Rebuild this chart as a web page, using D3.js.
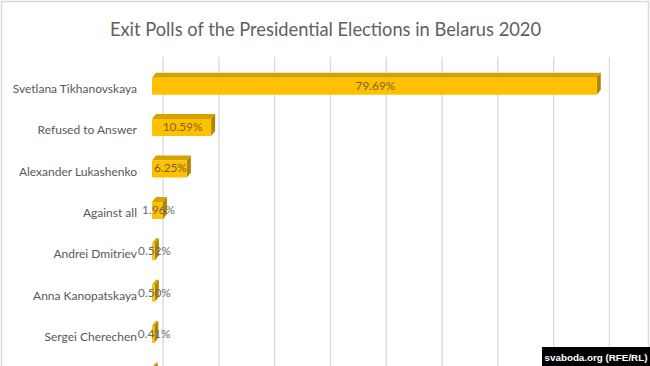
<!DOCTYPE html>
<html>
<head>
<meta charset="utf-8">
<script src="https://cdn.jsdelivr.net/npm/d3@7"></script>
<style>
  html, body { margin: 0; padding: 0; background: #ffffff; }
  svg { display: block; }
</style>
</head>
<body>
<svg id="chart" width="650" height="366"></svg>
<script>
const title = "Exit Polls of the Presidential Elections in Belarus 2020";
const categories = [
  "Svetlana Tikhanovskaya",
  "Refused to Answer",
  "Alexander Lukashenko",
  "Against all",
  "Andrei Dmitriev",
  "Anna Kanopatskaya",
  "Sergei Cherechen",
  "Yury Gancharenko"
];
const values = [79.69, 10.59, 6.25, 1.96, 0.52, 0.50, 0.41, 0.30];
const valueLabels = ["79.69%", "10.59%", "6.25%", "1.96%", "0.52%", "0.50%", "0.41%", ""];
const gridTicks = [0, 10, 20, 30, 40, 50, 60, 70, 80];
const credit = "svaboda.org (RFE/RL)";

const W = 650, H = 366;
const svg = d3.select("#chart");
const font = "Lato, 'Open Sans', sans-serif";

// outer frame
svg.append("rect").attr("x", 0).attr("y", 0).attr("width", W).attr("height", H).attr("fill", "#ffffff");
svg.append("rect").attr("x", 1.5).attr("y", 1.5).attr("width", W - 3).attr("height", H + 10)
  .attr("fill", "none").attr("stroke", "#d9d9d9").attr("stroke-width", 1.5);

// scales
const depthX = 11;
const xBack = d3.scaleLinear().domain([0, 80]).range([163, 609.5]);
const xFront = v => xBack(v) - depthX;
const y = d3.scaleBand().domain(categories).range([67, 67 + 41.4 * categories.length]).padding(0);
const cy = c => y(c) + y.bandwidth() / 2;

// title
svg.append("text")
  .attr("x", 325.5).attr("y", 36)
  .attr("text-anchor", "middle")
  .attr("font-family", font).attr("font-size", 18.3)
  .attr("fill", "#5f5f5f")
  .text(title);

// gridlines (back wall)
svg.append("g").selectAll("line").data(gridTicks).join("line")
  .attr("x1", d => xBack(d)).attr("x2", d => xBack(d))
  .attr("y1", 57).attr("y2", H)
  .attr("stroke", "#d9d9d9").attr("stroke-width", 1.3);

// bars (3D look)
const barH = 17, sideDX = 4, sideDY = 5;
const bars = svg.append("g").selectAll("g").data(categories).join("g");
bars.each(function(c, i) {
  const g = d3.select(this);
  const x0 = xFront(0), x1 = xFront(values[i]);
  const top = cy(c) - 10;
  const bot = top + barH;
  g.append("path")
    .attr("d", `M${x0},${top} L${x0 + sideDX},${top - sideDY} L${x1 + sideDX},${top - sideDY} L${x1},${top} Z`)
    .attr("fill", "#d6a200");
  g.append("path")
    .attr("d", `M${x1},${top} L${x1 + sideDX},${top - sideDY} L${x1 + sideDX},${bot - sideDY} L${x1},${bot} Z`)
    .attr("fill", "#b08400");
  g.append("rect")
    .attr("x", x0).attr("y", top).attr("width", Math.max(0, x1 - x0)).attr("height", barH)
    .attr("rx", 1)
    .attr("fill", "#ffc000");
});

// category labels (only those that fall inside the visible frame)
const visibleCats = categories.filter(c => cy(c) + 8 < H);
svg.append("g").selectAll("text").data(visibleCats).join("text")
  .attr("x", 137).attr("y", d => cy(d) + 2)
  .attr("text-anchor", "end").attr("dominant-baseline", "middle")
  .attr("font-family", font).attr("font-size", 12)
  .attr("fill", "#595959")
  .text(d => d);

// value labels
svg.append("g").selectAll("text").data(categories).join("text")
  .attr("x", (d, i) => (xFront(0) + xFront(values[i])) / 2 + 1)
  .attr("y", d => cy(d) - 1)
  .attr("text-anchor", "middle").attr("dominant-baseline", "middle")
  .attr("font-family", font).attr("font-size", 11.8)
  .attr("fill", (d, i) => values[i] > 5 ? "#7a6322" : "#6a6a6a")
  .text((d, i) => valueLabels[i]);

// credit box
const cg = svg.append("g");
cg.append("rect").attr("x", 542).attr("y", 347).attr("width", 108).attr("height", 19).attr("fill", "#000000");
cg.append("text")
  .attr("x", 596).attr("y", 360.5)
  .attr("text-anchor", "middle")
  .attr("font-family", "'Liberation Sans', Arial, sans-serif").attr("font-weight", "bold")
  .attr("font-size", 9.8).attr("fill", "#ffffff")
  .text(credit);
</script>
</body>
</html>
